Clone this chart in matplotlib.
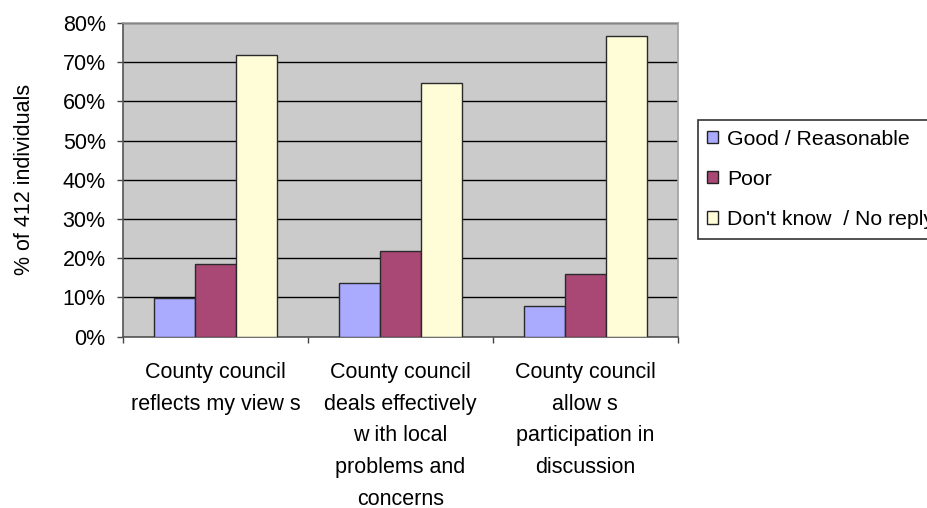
import numpy as np
import matplotlib
matplotlib.use('Agg')
import matplotlib.pyplot as plt
import matplotlib.ticker as ticker
from matplotlib.patches import Patch

plt.rcParams['font.family'] = ['Liberation Sans', 'DejaVu Sans']

# data (percent of 412 individuals)
categories = ['County council\nreflects my view s',
              'County council\ndeals effectively\nw ith local\nproblems and\nconcerns',
              'County council\nallow s\nparticipation in\ndiscussion']
series_names = ['Good / Reasonable', 'Poor', "Don't know  / No reply"]
good = [9.9, 13.7, 7.8]
poor = [18.6, 21.8, 15.9]
dont_know = [71.8, 64.8, 76.7]
y_ticks = [0, 10, 20, 30, 40, 50, 60, 70, 80]

colors = ['#aaaaff', '#a94874', '#fffdd8']

fig = plt.figure(figsize=(9.28, 5.08), dpi=100)
ax = fig.add_axes([0.1329, 0.3372, 0.5974, 0.6175])

x = np.arange(len(categories))
w = 0.222
for i, vals in enumerate([good, poor, dont_know]):
    ax.bar(x + (i - 1) * w, vals, width=w, color=colors[i],
           edgecolor='#2a2a2a', linewidth=1.0, zorder=3)

ax.set_facecolor('#cbcbcb')
ax.set_xlim(-0.5, len(categories) - 0.5)
ax.set_ylim(0, 80)
ax.set_yticks(y_ticks)
ax.yaxis.set_major_formatter(ticker.FuncFormatter(lambda v, p: '%d%%' % v))
ax.yaxis.grid(True, color='black', linewidth=1.0, zorder=1)

# ticks on the category boundaries, labels centred between them
ax.set_xticks(np.arange(len(categories) + 1) - 0.5)
ax.set_xticklabels([])
ax.set_xticks(x, minor=True)
ax.set_xticklabels(categories, minor=True, fontsize=15.5, linespacing=1.68)
ax.tick_params(axis='x', which='minor', length=0, pad=18)
ax.tick_params(axis='x', which='major', length=4.3, width=1, color='#444444')
ax.tick_params(axis='y', length=4.3, width=1, color='#444444',
               labelsize=15.5, pad=8.4)

for side in ['top', 'right']:
    ax.spines[side].set_color('#a0a0a0')
    ax.spines[side].set_linewidth(1.2)
for side in ['left', 'bottom']:
    ax.spines[side].set_color('#555555')
    ax.spines[side].set_linewidth(1.2)

ax.set_ylabel('% of 412 individuals', fontsize=15.5, labelpad=20)

handles = [Patch(facecolor=colors[i], edgecolor='#222222', linewidth=1.0)
           for i in range(3)]
leg = fig.legend(handles, series_names, loc='upper left',
                 bbox_to_anchor=(0.7518, 0.7638), fontsize=15.3, frameon=True,
                 fancybox=False, edgecolor='black', handlelength=0.5,
                 handleheight=0.5, handletextpad=0.42, labelspacing=1.0,
                 borderpad=0.45, borderaxespad=0)
leg.get_frame().set_linewidth(1.2)

fig.savefig('out.png', dpi=100)
